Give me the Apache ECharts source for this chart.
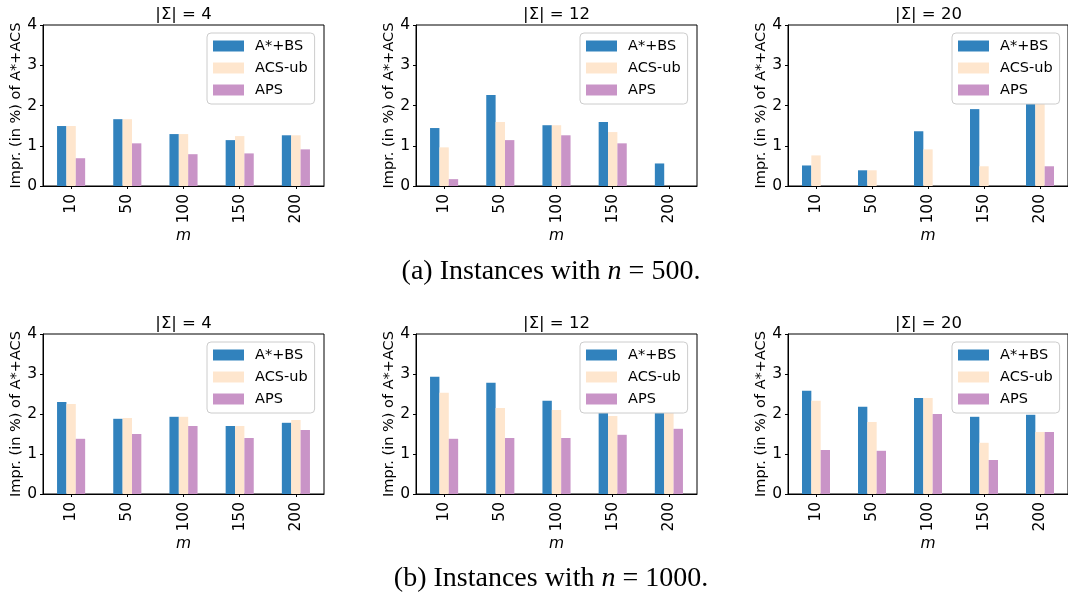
<!DOCTYPE html>
<html>
<head>
<meta charset="utf-8">
<script src="https://cdn.jsdelivr.net/npm/echarts@6/dist/echarts.min.js"></script>
<style>
  html, body { margin: 0; padding: 0; background: #fff; }
  #chart { width: 1068px; height: 599px; }
</style>
</head>
<body>
<div id="chart"></div>
<script>
// m values on the x axis
const categories = ['10', '50', '100', '150', '200']
const seriesNames = ['A*+BS', 'ACS-ub', 'APS']
const colors = ['#3182bd', '#fee6ce', '#c994c7']
const yTicks = [0, 1, 2, 3, 4]

// (a) n = 500
const n500_s4_bs = [1.49, 1.66, 1.29, 1.14, 1.26]
const n500_s4_ub = [1.49, 1.66, 1.29, 1.24, 1.26]
const n500_s4_aps = [0.69, 1.06, 0.79, 0.81, 0.91]
const n500_s12_bs = [1.44, 2.26, 1.51, 1.59, 0.56]
const n500_s12_ub = [0.96, 1.59, 1.51, 1.34, 0]
const n500_s12_aps = [0.17, 1.14, 1.26, 1.06, 0]
const n500_s20_bs = [0.51, 0.39, 1.36, 1.91, 2.3]
const n500_s20_ub = [0.76, 0.39, 0.91, 0.49, 2.2]
const n500_s20_aps = [0, 0, 0, 0, 0.49]

// (b) n = 1000
const n1000_s4_bs = [2.30, 1.88, 1.93, 1.70, 1.78]
const n1000_s4_ub = [2.25, 1.90, 1.93, 1.70, 1.85]
const n1000_s4_aps = [1.38, 1.50, 1.70, 1.40, 1.60]
const n1000_s12_bs = [2.93, 2.78, 2.33, 2.2, 2.3]
const n1000_s12_ub = [2.53, 2.15, 2.10, 1.95, 2.1]
const n1000_s12_aps = [1.38, 1.40, 1.40, 1.48, 1.63]
const n1000_s20_bs = [2.58, 2.18, 2.40, 1.93, 1.98]
const n1000_s20_ub = [2.33, 1.80, 2.40, 1.28, 1.55]
const n1000_s20_aps = [1.10, 1.08, 2.00, 0.85, 1.55]

const panelTitles = ['|Σ| = 4', '|Σ| = 12', '|Σ| = 20']
const panelData = [
  [n500_s4_bs, n500_s4_ub, n500_s4_aps],
  [n500_s12_bs, n500_s12_ub, n500_s12_aps],
  [n500_s20_bs, n500_s20_ub, n500_s20_aps],
  [n1000_s4_bs, n1000_s4_ub, n1000_s4_aps],
  [n1000_s12_bs, n1000_s12_ub, n1000_s12_aps],
  [n1000_s20_bs, n1000_s20_ub, n1000_s20_aps]
]

const FONT = 'DejaVu Sans'
const lefts = [43, 416, 788]
const tops = [25, 334]
const heights = [161, 160]
const W = 281

const myChart = echarts.init(document.getElementById('chart'), null, { renderer: 'canvas' })

const grid = []
const xAxis = []
const yAxis = []
const series = []
const legend = []
const graphic = []

panelData.forEach((sets, i) => {
  const col = i % 3
  const row = Math.floor(i / 3)
  const left = lefts[col]
  const top = tops[row]

  grid.push({
    left: left,
    top: top,
    width: W,
    height: heights[row],
    show: true,
    borderColor: '#000',
    borderWidth: 1,
    containLabel: false
  })

  xAxis.push({
    type: 'category',
    gridIndex: i,
    data: categories,
    name: 'm',
    nameLocation: 'middle',
    nameGap: 39,
    nameTextStyle: { fontFamily: FONT, fontSize: 15.5, fontStyle: 'italic', color: '#000' },
    axisLine: { lineStyle: { color: '#000', width: 1 } },
    axisTick: { show: true, alignWithLabel: true, length: 3, lineStyle: { color: '#000' } },
    axisLabel: { rotate: 90, margin: 8, fontFamily: FONT, fontSize: 15.5, color: '#000' },
    splitLine: { show: false }
  })

  yAxis.push({
    type: 'value',
    gridIndex: i,
    min: 0,
    max: 4,
    interval: 1,
    name: 'Impr. (in %) of A*+ACS',
    nameLocation: 'middle',
    nameGap: 17,
    nameTextStyle: { fontFamily: FONT, fontSize: 14.5, color: '#000' },
    axisLine: { show: true, lineStyle: { color: '#000', width: 1 } },
    axisTick: { show: true, length: 3, lineStyle: { color: '#000' } },
    axisLabel: {
      margin: 6,
      fontFamily: FONT,
      fontSize: 15.5,
      color: '#000',
      formatter: v => (yTicks.includes(v) ? String(v) : '')
    },
    splitLine: { show: false }
  })

  sets.forEach((vals, k) => {
    series.push({
      type: 'bar',
      name: seriesNames[k],
      xAxisIndex: i,
      yAxisIndex: i,
      data: vals,
      barWidth: '16.67%',
      barGap: '0%',
      itemStyle: { color: colors[k] },
      emphasis: { disabled: true }
    })
  })

  legend.push({
    data: seriesNames,
    orient: 'vertical',
    left: left + 164,
    top: top + 8,
    selectedMode: false,
    icon: 'rect',
    itemWidth: 31,
    itemHeight: 11,
    itemGap: 6,
    padding: [5, 7, 6, 6],
    backgroundColor: '#fff',
    borderColor: '#ccc',
    borderWidth: 1,
    borderRadius: 4,
    textStyle: {
      fontFamily: FONT,
      fontSize: 14.5,
      lineHeight: 16,
      color: '#000',
      padding: [0, 0, 0, 6]
    }
  })

  graphic.push({
    type: 'text',
    x: left + W / 2,
    y: top - 10,
    style: {
      text: panelTitles[col],
      font: '16.5px "DejaVu Sans"',
      fill: '#000',
      textAlign: 'center',
      textVerticalAlign: 'middle'
    }
  })
})

// sub-captions
const captions = [
  { label: '(a) Instances with ', n: '500', y: 272 },
  { label: '(b) Instances with ', n: '1000', y: 579 }
]
captions.forEach(c => {
  graphic.push({
    type: 'text',
    x: 551,
    y: c.y,
    style: {
      text: c.label + '{i|n} = ' + c.n + '.',
      font: '28px "Liberation Serif"',
      fill: '#000',
      textAlign: 'center',
      textVerticalAlign: 'middle',
      rich: {
        i: { fontStyle: 'italic', fontFamily: 'Liberation Serif', fontSize: 28, fill: '#000' }
      }
    }
  })
})

myChart.setOption({
  animation: false,
  grid,
  xAxis,
  yAxis,
  series,
  legend,
  graphic
})
</script>
</body>
</html>
